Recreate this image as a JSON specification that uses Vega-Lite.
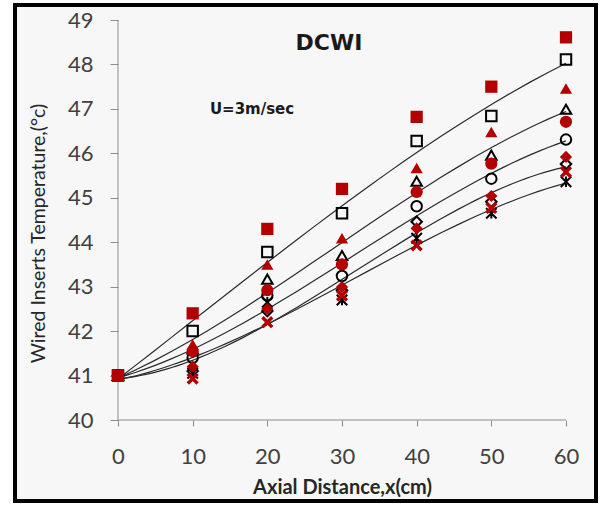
{
  "$schema": "https://vega.github.io/schema/vega-lite/v6.json",
  "autosize": {"type": "none"},
  "padding": {"left": 15, "top": 5, "right": 8, "bottom": 5},
  "width": 581,
  "height": 496,
  "background": "#ffffff",
  "config": {
    "view": {"stroke": "#000000", "strokeWidth": 4, "fill": "#f7f7f7"},
    "axis": {"grid": false, "domain": false, "tickColor": "#8c8c8c", "labelFont": "Lato", "labelFontSize": 22, "labelColor": "#404040", "titleFont": "Lato", "titleColor": "#262626"}
  },
  "datasets": {
    "temps": [
      {"x": 0, "T": 41, "s": "A1"}, {"x": 0, "T": 41, "s": "B1"}, {"x": 0, "T": 41, "s": "A2"}, {"x": 0, "T": 41, "s": "B2"}, {"x": 0, "T": 41, "s": "A3"},
      {"x": 0, "T": 41, "s": "B3"}, {"x": 0, "T": 41, "s": "A4"}, {"x": 0, "T": 41, "s": "B4"}, {"x": 0, "T": 41, "s": "A5"}, {"x": 0, "T": 41, "s": "B5"},
      {"x": 10, "T": 42.4, "s": "A1"}, {"x": 10, "T": 42.0, "s": "B1"}, {"x": 10, "T": 41.7, "s": "A2"}, {"x": 10, "T": 41.6, "s": "B2"}, {"x": 10, "T": 41.55, "s": "A3"},
      {"x": 10, "T": 41.4, "s": "B3"}, {"x": 10, "T": 41.2, "s": "A4"}, {"x": 10, "T": 41.1, "s": "B4"}, {"x": 10, "T": 40.93, "s": "A5"}, {"x": 10, "T": 41.05, "s": "B5"},
      {"x": 20, "T": 44.3, "s": "A1"}, {"x": 20, "T": 43.78, "s": "B1"}, {"x": 20, "T": 43.5, "s": "A2"}, {"x": 20, "T": 43.17, "s": "B2"}, {"x": 20, "T": 42.92, "s": "A3"},
      {"x": 20, "T": 42.8, "s": "B3"}, {"x": 20, "T": 42.5, "s": "A4"}, {"x": 20, "T": 42.45, "s": "B4"}, {"x": 20, "T": 42.2, "s": "A5"}, {"x": 20, "T": 42.65, "s": "B5"},
      {"x": 30, "T": 45.2, "s": "A1"}, {"x": 30, "T": 44.65, "s": "B1"}, {"x": 30, "T": 44.09, "s": "A2"}, {"x": 30, "T": 43.7, "s": "B2"}, {"x": 30, "T": 43.5, "s": "A3"},
      {"x": 30, "T": 43.24, "s": "B3"}, {"x": 30, "T": 42.99, "s": "A4"}, {"x": 30, "T": 42.92, "s": "B4"}, {"x": 30, "T": 42.8, "s": "A5"}, {"x": 30, "T": 42.7, "s": "B5"},
      {"x": 40, "T": 46.82, "s": "A1"}, {"x": 40, "T": 46.28, "s": "B1"}, {"x": 40, "T": 45.67, "s": "A2"}, {"x": 40, "T": 45.37, "s": "B2"}, {"x": 40, "T": 45.13, "s": "A3"},
      {"x": 40, "T": 44.81, "s": "B3"}, {"x": 40, "T": 44.31, "s": "A4"}, {"x": 40, "T": 44.46, "s": "B4"}, {"x": 40, "T": 43.93, "s": "A5"}, {"x": 40, "T": 44.09, "s": "B5"},
      {"x": 50, "T": 47.5, "s": "A1"}, {"x": 50, "T": 46.84, "s": "B1"}, {"x": 50, "T": 46.48, "s": "A2"}, {"x": 50, "T": 45.96, "s": "B2"}, {"x": 50, "T": 45.77, "s": "A3"},
      {"x": 50, "T": 45.43, "s": "B3"}, {"x": 50, "T": 45.04, "s": "A4"}, {"x": 50, "T": 44.91, "s": "B4"}, {"x": 50, "T": 44.77, "s": "A5"}, {"x": 50, "T": 44.65, "s": "B5"},
      {"x": 60, "T": 48.61, "s": "A1"}, {"x": 60, "T": 48.11, "s": "B1"}, {"x": 60, "T": 47.46, "s": "A2"}, {"x": 60, "T": 46.99, "s": "B2"}, {"x": 60, "T": 46.71, "s": "A3"},
      {"x": 60, "T": 46.31, "s": "B3"}, {"x": 60, "T": 45.92, "s": "A4"}, {"x": 60, "T": 45.76, "s": "B4"}, {"x": 60, "T": 45.58, "s": "A5"}, {"x": 60, "T": 45.36, "s": "B5"}
    ]
  },
  "layer": [
    {
      "data": {"name": "temps"},
      "transform": [
        {"filter": "datum.s[0] === 'B'"},
        {"regression": "T", "on": "x", "groupby": ["s"], "method": "poly", "order": 3, "extent": [0, 60]}
      ],
      "mark": {"type": "line", "color": "#2a2a2a", "strokeWidth": 1.2},
      "encoding": {
        "x": {
          "field": "x", "type": "quantitative",
          "scale": {"domain": [-13.795, 64.02], "nice": false, "zero": false},
          "axis": {"orient": "bottom", "offset": -81, "values": [0, 10, 20, 30, 40, 50, 60], "tickSize": 6, "labelPadding": 20, "labelFlush": false,
            "title": "Axial Distance,x(cm)", "titleFontSize": 20, "titleFontWeight": "bold", "titleX": 327, "titleY": 67, "titleBaseline": "middle", "titleAnchor": null}
        },
        "y": {
          "field": "T", "type": "quantitative",
          "scale": {"domain": [38.1775, 49.3375], "nice": false, "zero": false},
          "axis": {"orient": "left", "offset": -103, "values": [40, 41, 42, 43, 44, 45, 46, 47, 48, 49], "tickSize": 8, "labelPadding": 17, "labelFlush": false,
            "title": "Wired Inserts Temperature,(°c)", "titleFontSize": 19.5, "titleFontWeight": "normal", "titleX": -80, "titleY": 228, "titleAngle": -90, "titleBaseline": "middle", "titleAnchor": null}
        },
        "detail": {"field": "s"}
      }
    },
    {
      "data": {"values": [{"k": 1}]},
      "mark": {"type": "rule", "color": "#8c8c8c", "strokeWidth": 1},
      "encoding": {"x": {"datum": 0, "type": "quantitative"}, "y": {"datum": 40, "type": "quantitative"}, "y2": {"datum": 49}}
    },
    {
      "data": {"values": [{"k": 2}]},
      "mark": {"type": "rule", "color": "#8c8c8c", "strokeWidth": 1},
      "encoding": {"x": {"datum": 0, "type": "quantitative"}, "x2": {"datum": 60}, "y": {"datum": 40, "type": "quantitative"}}
    },
    {
      "data": {"name": "temps"},
      "transform": [{"filter": "datum.s[0] === 'B'"}],
      "mark": {"type": "point", "filled": false, "color": "#000000", "strokeWidth": 2, "size": 110, "opacity": 1},
      "encoding": {
        "x": {"field": "x", "type": "quantitative"},
        "y": {"field": "T", "type": "quantitative"},
        "shape": {"field": "s", "type": "nominal", "legend": null,
          "scale": {"domain": ["A1", "A2", "A3", "A4", "A5", "B1", "B2", "B3", "B4", "B5"],
            "range": ["square", "triangle-up", "circle", "diamond", "M-1,-0.6L-0.6,-1L0,-0.4L0.6,-1L1,-0.6L0.4,0L1,0.6L0.6,1L0,0.4L-0.6,1L-1,0.6L-0.4,0Z",
                      "square", "triangle-up", "circle", "diamond", "M-1,-1L1,1M-1,1L1,-1M0,-1L0,1"]}}
      }
    },
    {
      "data": {"name": "temps"},
      "transform": [{"filter": "datum.s[0] === 'A'"}],
      "mark": {"type": "point", "filled": true, "color": "#b30000", "size": 150, "opacity": 1},
      "encoding": {
        "x": {"field": "x", "type": "quantitative"},
        "y": {"field": "T", "type": "quantitative"},
        "shape": {"field": "s", "type": "nominal", "legend": null}
      }
    },
    {
      "data": {"values": [{"k": 3}]},
      "mark": {"type": "text", "text": "DCWI", "font": "DejaVu Sans", "fontWeight": "bold", "fontSize": 22, "color": "#1a1a1a", "align": "center", "baseline": "middle"},
      "encoding": {"x": {"datum": 28.26, "type": "quantitative"}, "y": {"datum": 48.48, "type": "quantitative"}}
    },
    {
      "data": {"values": [{"k": 4}]},
      "mark": {"type": "text", "text": "U=3m/sec", "font": "DejaVu Sans", "fontWeight": "bold", "fontSize": 15, "color": "#1a1a1a", "align": "center", "baseline": "middle"},
      "encoding": {"x": {"datum": 17.95, "type": "quantitative"}, "y": {"datum": 47.0, "type": "quantitative"}}
    }
  ]
}
